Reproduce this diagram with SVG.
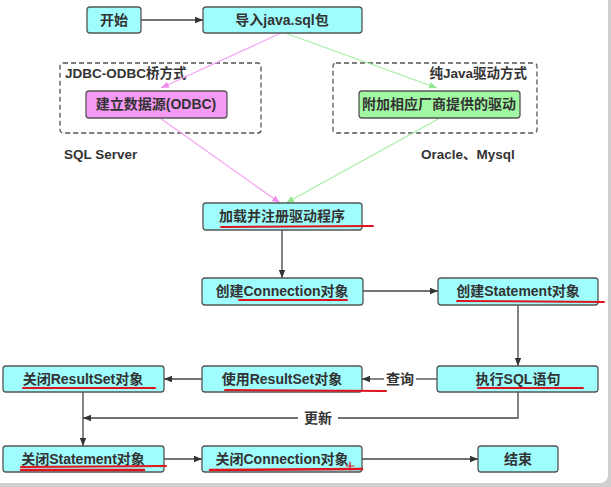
<svg xmlns="http://www.w3.org/2000/svg" width="611" height="487" viewBox="0 0 611 487">
<style>
.box{stroke:#555;stroke-width:1.3}
.c{fill:#9ffdfd}
.p{fill:#f59af5}
.g{fill:#a2f7a2}
.t{font-family:"Liberation Sans","Noto Sans CJK SC",sans-serif;font-weight:bold;font-size:14px;fill:#333;text-anchor:middle}
.lab{font-family:"Liberation Sans","Noto Sans CJK SC",sans-serif;font-weight:bold;font-size:13.5px;fill:#333}
.ln{stroke:#444;stroke-width:1.3;fill:none}
.dash{fill:none;stroke:#555;stroke-width:1.3;stroke-dasharray:5,3}
.red{stroke:#e0141e;stroke-width:2;fill:none;stroke-linecap:round}
</style>
<defs>
<marker id="ah" viewBox="0 0 10 10" refX="10" refY="5" markerWidth="8" markerHeight="8" markerUnits="userSpaceOnUse" orient="auto"><path d="M0,1 L10,5 L0,9 z" fill="#333"/></marker>
<marker id="ap" viewBox="0 0 10 10" refX="10" refY="5" markerWidth="8" markerHeight="8" markerUnits="userSpaceOnUse" orient="auto"><path d="M0,1 L10,5 L0,9 z" fill="#f08cf0"/></marker>
<marker id="ag" viewBox="0 0 10 10" refX="10" refY="5" markerWidth="8" markerHeight="8" markerUnits="userSpaceOnUse" orient="auto"><path d="M0,1 L10,5 L0,9 z" fill="#8fe88f"/></marker>
</defs>
<rect x="0" y="0" width="611" height="487" fill="#cfcfcf"/>
<rect x="-10" y="-10" width="618" height="493" rx="8" fill="#ffffff"/>

<g id="groups">
<rect class="dash" x="60" y="63" width="201" height="70" rx="3"/>
<text class="lab" x="65" y="78">JDBC-ODBC桥方式</text>
<rect class="dash" x="333" y="63" width="204" height="70" rx="3"/>
<text class="lab" x="527" y="78" text-anchor="end" style="text-anchor:end">纯Java驱动方式</text>
<text class="lab" x="64" y="159">SQL Server</text>
<text class="lab" x="421" y="159">Oracle、Mysql</text>
</g>

<g id="connectors">
<line class="ln" x1="141" y1="20" x2="203" y2="20" marker-end="url(#ah)"/>
<line x1="281" y1="33" x2="161" y2="88" stroke="#f5a5f5" stroke-width="1.3" marker-end="url(#ap)"/>
<line x1="160" y1="118" x2="280" y2="203" stroke="#f5a5f5" stroke-width="1.3" marker-end="url(#ap)"/>
<line x1="285" y1="33" x2="437" y2="88" stroke="#a5f0a5" stroke-width="1.3" marker-end="url(#ag)"/>
<line x1="440" y1="118" x2="286" y2="203" stroke="#a5f0a5" stroke-width="1.3" marker-end="url(#ag)"/>
<line class="ln" x1="282" y1="230" x2="282" y2="278" marker-end="url(#ah)"/>
<line class="ln" x1="363" y1="291" x2="438" y2="291" marker-end="url(#ah)"/>
<line class="ln" x1="518" y1="305" x2="518" y2="366" marker-end="url(#ah)"/>
<line class="ln" x1="437" y1="379" x2="416" y2="379"/>
<line class="ln" x1="384" y1="379" x2="362" y2="379" marker-end="url(#ah)"/>
<text class="t" x="400" y="384">查询</text>
<line class="ln" x1="202" y1="379" x2="164" y2="379" marker-end="url(#ah)"/>
<polyline class="ln" points="518,392 518,418 338,418"/>
<line class="ln" x1="298" y1="418" x2="83" y2="418" marker-end="url(#ah)"/>
<text class="t" x="318" y="423">更新</text>
<line class="ln" x1="83" y1="392" x2="83" y2="446" marker-end="url(#ah)"/>
<line class="ln" x1="164" y1="459" x2="202" y2="459" marker-end="url(#ah)"/>
<line class="ln" x1="362" y1="459" x2="478" y2="459" marker-end="url(#ah)"/>
</g>

<g id="n-start"><rect class="box c" x="87" y="7" width="54" height="26" rx="3"/><text class="t" x="114" y="25">开始</text></g>
<g id="n-import"><rect class="box c" x="203" y="7" width="159" height="26" rx="3"/><text class="t" x="282" y="25">导入java.sql包</text></g>
<g id="n-odbc"><rect class="box p" x="86" y="91" width="141" height="27" rx="3"/><text class="t" x="156" y="109">建立数据源(ODBC)</text></g>
<g id="n-driver"><rect class="box g" x="359" y="91" width="161" height="27" rx="3"/><text class="t" x="439" y="109">附加相应厂商提供的驱动</text></g>
<g id="n-load"><rect class="box c" x="203" y="203" width="159" height="27" rx="3"/><text class="t" x="282" y="221">加载并注册驱动程序</text></g>
<g id="n-conn"><rect class="box c" x="202" y="278" width="161" height="27" rx="3"/><text class="t" x="282" y="296">创建Connection对象</text></g>
<g id="n-stmt"><rect class="box c" x="438" y="278" width="160" height="27" rx="3"/><text class="t" x="518" y="296">创建Statement对象</text></g>
<g id="n-exec"><rect class="box c" x="437" y="366" width="161" height="26" rx="3"/><text class="t" x="518" y="384">执行SQL语句</text></g>
<g id="n-use"><rect class="box c" x="202" y="366" width="160" height="26" rx="3"/><text class="t" x="282" y="384">使用ResultSet对象</text></g>
<g id="n-closers"><rect class="box c" x="3" y="366" width="161" height="26" rx="3"/><text class="t" x="83" y="384">关闭ResultSet对象</text></g>
<g id="n-closestmt"><rect class="box c" x="3" y="446" width="161" height="26" rx="3"/><text class="t" x="83" y="464">关闭Statement对象</text></g>
<g id="n-closeconn"><rect class="box c" x="202" y="446" width="160" height="26" rx="3"/><text class="t" x="282" y="464">关闭Connection对象</text></g>
<g id="n-end"><rect class="box c" x="478" y="446" width="80" height="26" rx="3"/><text class="t" x="518" y="464">结束</text></g>

<g id="annotations">
<path class="red" d="M221,227 L373,226"/>
<path class="red" d="M239,300 L347,300"/>
<path class="red" d="M457,301 L604,302"/>
<path class="red" d="M478,388 L583,388"/>
<path class="red" d="M225,390 L386,391"/>
<path class="red" d="M23,388 L155,388"/>
<path class="red" d="M21,467 L166,466"/>
<path class="red" d="M21,470 L144,470" style="stroke-width:2.5"/>
<path class="red" d="M210,470 L362,469" style="stroke-width:2.5"/>
<path class="red" d="M346,466 L354,466 M350,462 L350,470" style="stroke-width:1.2"/>
</g>
</svg>
